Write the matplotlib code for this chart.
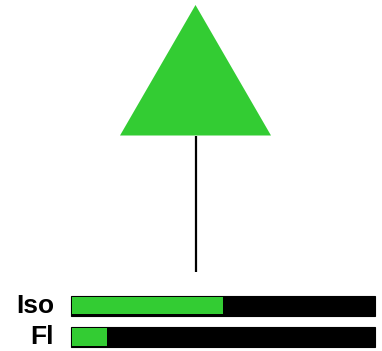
import matplotlib
matplotlib.use('Agg')
import matplotlib.pyplot as plt
from matplotlib.patches import Polygon, Rectangle

# bar labels and filled fraction of each bar
labels = ['Iso', 'Fl']
fractions = [0.50, 0.12]

green = '#33cc33'

fig = plt.figure(figsize=(3.82, 3.51), dpi=100)
ax = fig.add_axes([0, 0, 1, 1])
ax.set_xlim(0, 382)
ax.set_ylim(351, 0)
ax.axis('off')

# tree symbol: triangle crown on a stem
cx = 195.5
top, base, half_w = 5, 135.5, 75.5
ax.add_patch(Polygon([[cx, top], [cx - half_w, base], [cx + half_w, base]],
                     closed=True, facecolor=green, edgecolor='none'))
ax.plot([cx, cx], [base, 272], color='black', lw=1.6, solid_capstyle='butt')

# horizontal gauges
bar_x0, bar_x1 = 70.5, 375
bar_tops = [295.5, 327]
bar_h = 20
for lab, frac, y0 in zip(labels, fractions, bar_tops):
    w = bar_x1 - bar_x0
    ax.add_patch(Rectangle((bar_x0, y0), w, bar_h, facecolor='black',
                           edgecolor='black', lw=0.8))
    ax.add_patch(Rectangle((bar_x0 + 1.2, y0 + 1.2), frac * w - 1.2, bar_h - 2.4,
                           facecolor=green, edgecolor='none'))
    ax.text(54, y0 + bar_h / 2 + 0.5, lab, ha='right', va='center',
            fontsize=19, fontweight='bold', family='Liberation Sans')

fig.savefig('out.png', dpi=100)
